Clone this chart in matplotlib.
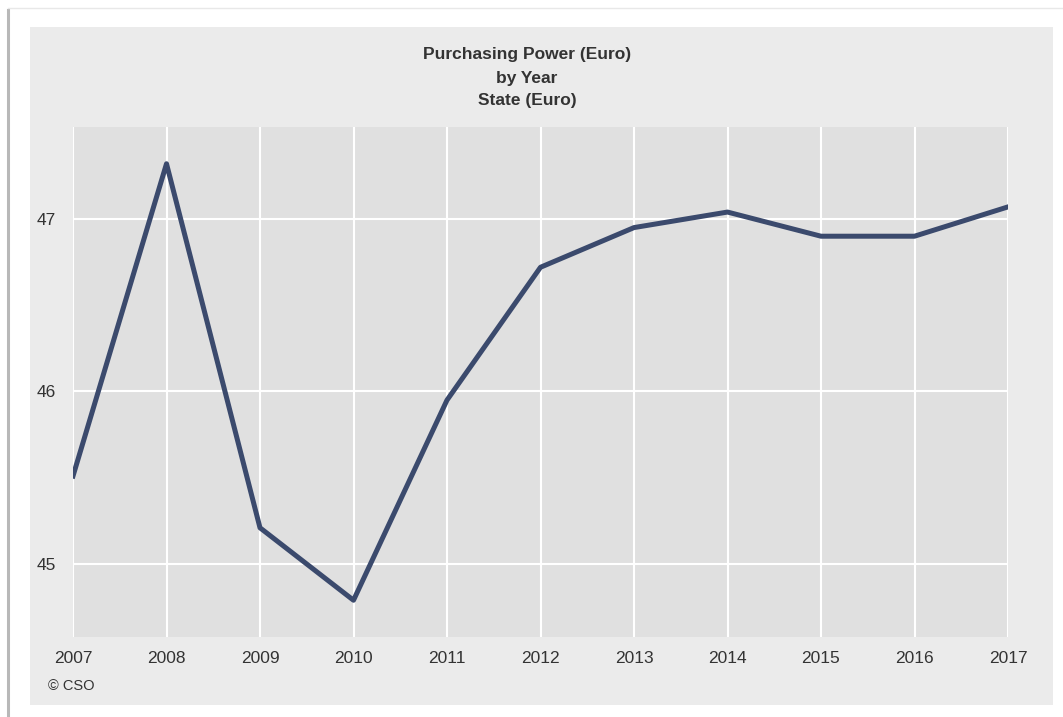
import matplotlib.pyplot as plt
from matplotlib.patches import Rectangle
from matplotlib.lines import Line2D


years = [2007, 2008, 2009, 2010, 2011, 2012, 2013, 2014, 2015, 2016, 2017]
purchasing_power = [45.51, 47.32, 45.21, 44.79, 45.95, 46.72, 46.95, 47.04, 46.90, 46.90, 47.07]
y_ticks = [45, 46, 47]
title_lines = ["Purchasing Power (Euro)", "by Year", "State (Euro)"]

W, H = 1063, 717


def fx(px):
    return px / W


def fy(py):
    return 1 - py / H


def main():
    plt.rcParams["font.family"] = ["Liberation Sans", "DejaVu Sans"]
    fig = plt.figure(figsize=(W / 100, H / 100), dpi=100, facecolor="white")

    # outer frame lines (left and top edge of the screenshot box)
    fig.add_artist(Line2D([fx(8), fx(8)], [fy(10), fy(717)], color="#b8b8b8", lw=2.2))
    fig.add_artist(Line2D([fx(8), fx(1063)], [fy(8), fy(8)], color="#e8e8e8", lw=1.0))

    # chart panel
    fig.add_artist(Rectangle((fx(30), fy(705)), fx(1053 - 30), (705 - 27) / H,
                             facecolor="#ebebeb", edgecolor="none", zorder=0))

    left, right, top, bottom = 73, 1008, 127, 637
    ax = fig.add_axes([fx(left), fy(bottom), fx(right - left), (bottom - top) / H])
    ax.set_facecolor("#e0e0e0")
    for spine in ax.spines.values():
        spine.set_visible(False)

    ax.plot(years, purchasing_power, color="#3b4a6d", lw=3.6, solid_joinstyle="round",
            zorder=3)

    ax.set_xlim(2007, 2017)
    ax.set_ylim(44.577, 47.533)
    ax.set_xticks(years)
    ax.set_yticks(y_ticks)
    ax.set_xticklabels([str(y) for y in years])
    ax.grid(True, color="white", lw=1.5, zorder=1)
    ax.set_axisbelow(True)
    ax.tick_params(length=0, labelsize=12.5, labelcolor="#333333")
    ax.tick_params(axis="x", pad=10)
    ax.tick_params(axis="y", pad=12)

    for i, line in enumerate(title_lines):
        fig.text(fx(527), fy(55 + i * 23), line, ha="center", va="center",
                 fontsize=12.5, fontweight="bold", color="#333333")

    fig.text(fx(48), fy(686), "\u00a9 CSO", ha="left", va="center",
             fontsize=10.5, color="#333333")

    fig.savefig("out.png", dpi=100, facecolor=fig.get_facecolor())


if __name__ == "__main__":
    main()
